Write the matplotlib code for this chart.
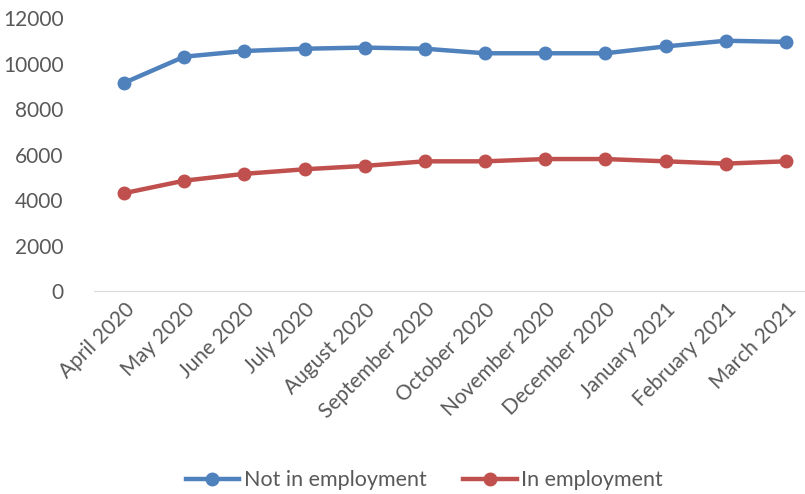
import matplotlib.pyplot as plt

# Monthly counts
months = ["April 2020", "May 2020", "June 2020", "July 2020", "August 2020",
          "September 2020", "October 2020", "November 2020", "December 2020",
          "January 2021", "February 2021", "March 2021"]
not_employed = [9150, 10300, 10550, 10650, 10700, 10650, 10450, 10450, 10450, 10750, 11000, 10950]
employed = [4300, 4850, 5150, 5350, 5500, 5700, 5700, 5800, 5800, 5700, 5600, 5700]

plt.rcParams['font.family'] = ['Lato', 'DejaVu Sans']
grey = "#595959"

fig = plt.figure(figsize=(8.05, 4.94), dpi=100)
ax = fig.add_axes([94 / 805, 203 / 494, 722 / 805, 273 / 494])

x = range(len(months))
ax.plot(x, not_employed, color="#4F81BD", lw=3.2, marker="o", ms=9, label="Not in employment")
ax.plot(x, employed, color="#C0504D", lw=3.2, marker="o", ms=9, label="In employment")

ax.set_xlim(-0.5, len(months) - 0.5)
ax.set_ylim(0, 12000)
ax.set_yticks(range(0, 12001, 2000))
ax.set_xticks(list(x))
ax.set_xticklabels(months, rotation=45, ha="right", rotation_mode="anchor")
ax.tick_params(axis="both", length=0, colors=grey, labelsize=15)
ax.tick_params(axis="y", pad=22)
ax.tick_params(axis="x", pad=6)

for s in ["top", "right", "left"]:
    ax.spines[s].set_visible(False)
ax.spines["bottom"].set_color("#D9D9D9")

leg = fig.legend(loc="center", bbox_to_anchor=(0.527, 0.028), ncol=2, frameon=False,
                 fontsize=15.5, handlelength=2.5, columnspacing=1.7, handletextpad=0.2)
for t in leg.get_texts():
    t.set_color(grey)

fig.savefig("out.png", dpi=100)
